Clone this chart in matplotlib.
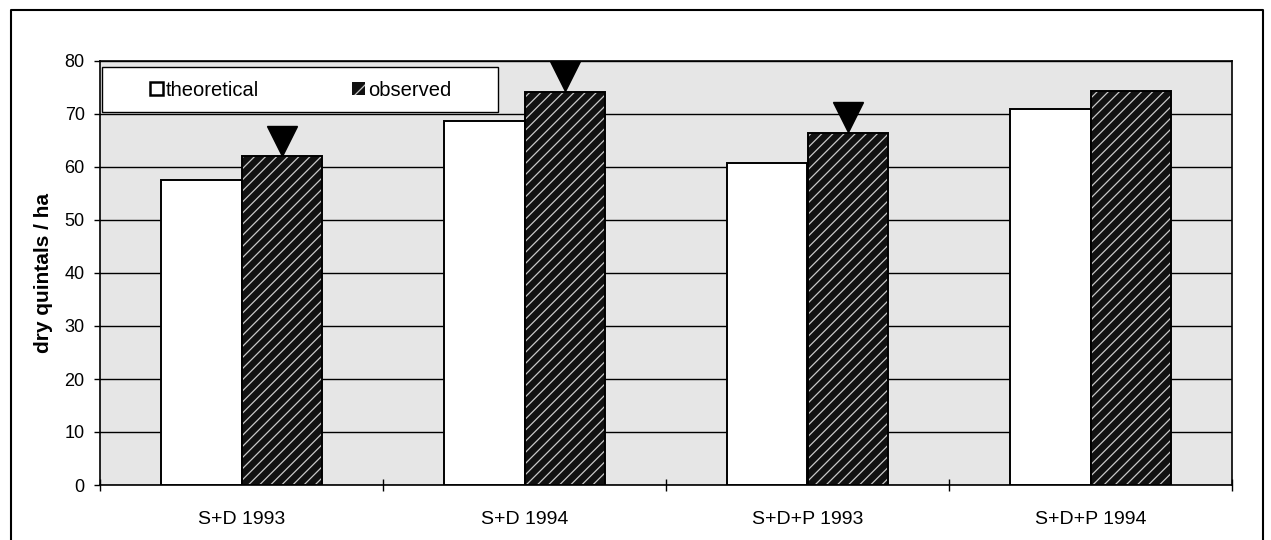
import matplotlib
matplotlib.use("Agg")
import matplotlib.pyplot as plt
import matplotlib.transforms as mtransforms
from matplotlib.patches import Patch, Rectangle
from matplotlib.lines import Line2D
import numpy as np

plt.rcParams['font.family'] = ['Liberation Sans', 'DejaVu Sans']
plt.rcParams['hatch.linewidth'] = 0.9

categories = ["S+D 1993", "S+D 1994", "S+D+P 1993", "S+D+P 1994"]
theoretical = [57.5, 68.6, 60.7, 71.0]
observed = [62.1, 74.2, 66.5, 74.4]
significant = [True, True, True, False]
series_labels = ["theoretical", "observed"]
y_ticks = [0, 10, 20, 30, 40, 50, 60, 70, 80]

fig = plt.figure(figsize=(12.71, 5.40), dpi=100)
ax = fig.add_axes([100/1271, 1-485/540, 1132/1271, 424/540])
ax.set_facecolor('#e6e6e6')

x = np.arange(len(categories))
w = 1/3.5

ax.bar(x - w/2, theoretical, w, color='white', edgecolor='black', linewidth=1.4, zorder=3)
ax.bar(x + w/2, observed, w, color='#111111', edgecolor='#c8c8c8', hatch='///', linewidth=0, zorder=3)
ax.bar(x + w/2, observed, w, fill=False, edgecolor='black', linewidth=1.4, zorder=4)

# significance triangles
trans = mtransforms.offset_copy(ax.transData, fig=fig, x=0, y=11, units='points')
for xi, yi, s in zip(x, observed, significant):
    if s:
        ax.plot([xi + w/2], [yi], marker='v', markersize=22, color='black',
                transform=trans, zorder=5, clip_on=False)

ax.set_xlim(-0.5, len(categories) - 0.5)
ax.set_ylim(0, 80)
ax.set_yticks(y_ticks)
ax.yaxis.grid(True, color='black', linewidth=1.0, zorder=1)
ax.set_axisbelow(True)

ax.set_xticks(x)
ax.set_xticklabels(categories, fontsize=14)
ax.tick_params(axis='x', which='major', length=0, pad=19)
ax.set_xticks(np.arange(-0.5, len(categories), 1.0), minor=True)
ax.tick_params(axis='x', which='minor', length=8, direction='inout', width=1.0)
ax.tick_params(axis='y', labelsize=13, length=4, width=1.0, pad=7)

for sp in ax.spines.values():
    sp.set_color('black')
    sp.set_linewidth(1.2)

ax.set_ylabel("dry quintals / ha", fontsize=15, fontweight='bold', labelpad=8)

# legend box
ax.add_patch(Rectangle((2/1132, 1 - 51/424), 396/1132, 45/424, transform=ax.transAxes,
                       facecolor='white', edgecolor='black', linewidth=1.0, zorder=10))
handles = [Patch(facecolor='white', edgecolor='black', linewidth=1.8),
           Patch(facecolor='#111111', edgecolor='#c8c8c8', hatch='//', linewidth=0)]
leg = ax.legend(handles, series_labels, loc='center left', ncol=2, frameon=False,
                bbox_to_anchor=(50/1132, 1 - 29/424), borderaxespad=0, borderpad=0,
                fontsize=14.5, handlelength=0.65, handleheight=0.65, handletextpad=0.15,
                columnspacing=4.6)
leg.set_zorder(11)

# figure outer border
fig.add_artist(Line2D([11/1271, 11/1271, 1263/1271, 1263/1271],
                      [0, 1-10/540, 1-10/540, 0], transform=fig.transFigure,
                      color='black', linewidth=1.5))

fig.savefig("out.png", dpi=100)
